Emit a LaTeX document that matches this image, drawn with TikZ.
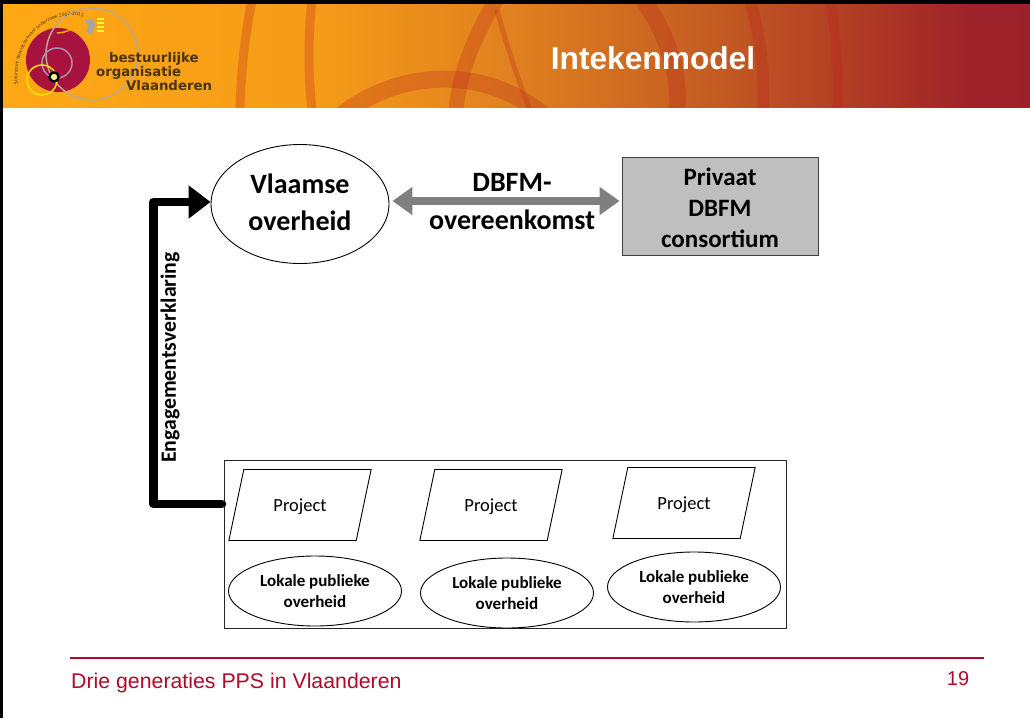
\documentclass[tikz,border=0pt]{standalone}
\usepackage{fontspec}
\setmainfont{Carlito}
\newfontfamily\arialfont{Liberation Sans}
\newfontfamily\logofont{DejaVu Sans}
\usetikzlibrary{arrows.meta,shapes.geometric,decorations.text}

\definecolor{slidered}{HTML}{B00A2A}
\definecolor{boxgrey}{HTML}{BFBFBF}
\definecolor{arrowgrey}{HTML}{7F7F7F}
\definecolor{logored}{HTML}{A8123F}
\definecolor{arcred}{HTML}{B8201C}
\definecolor{logotext}{HTML}{4A3410}
\definecolor{barA}{HTML}{FFA815}
\definecolor{barB}{HTML}{F59C18}
\definecolor{barC}{HTML}{E0801F}
\definecolor{barD}{HTML}{C25A22}
\definecolor{barE}{HTML}{B33E24}
\definecolor{barF}{HTML}{9E2329}
\definecolor{barG}{HTML}{9B2029}

\pgfdeclarehorizontalshading{headerbar}{100bp}{
    color(0bp)=(barA);
    color(25bp)=(barA);
    color(40bp)=(barB);
    color(50bp)=(barC);
    color(60bp)=(barD);
    color(66bp)=(barE);
    color(72bp)=(barF);
    color(75bp)=(barG);
    color(100bp)=(barG)}

\tikzset{
    headerarc/.style={line width=#1, draw=arcred, draw opacity=0.27},
    logoring/.style={line width=#1},
}

\begin{document}
\begin{tikzpicture}[x=1pt,y=-1pt]
    \useasboundingbox (0,0) rectangle (1030,718);
    \fill[white] (0,0) rectangle (1030,718);

    % header
    \shade[shading=headerbar] (0,0) rectangle (1030,107);
    \begin{scope}
        \clip (0,4) rectangle (1030,107);
        \draw[headerarc=9pt] (252,0) .. controls (245,35) and (241,70) .. (240,110);
        \draw[headerarc=9pt] (312,0) .. controls (308,35) and (308,75) .. (312,110);
        \draw[headerarc=17pt] (340,116) .. controls (395,72) and (480,62) .. (545,116);
        \draw[headerarc=15pt] (496,0) .. controls (475,35) and (460,70) .. (456,110);
        \draw[headerarc=5pt] (497,10) .. controls (508,50) and (520,85) .. (530,110);
        \draw[headerarc=17pt] (643,0) .. controls (665,30) and (680,70) .. (677,110);
        \draw[headerarc=12pt] (750,0) .. controls (760,35) and (765,75) .. (763,110);
        \draw[headerarc=10pt] (830,0) .. controls (836,35) and (839,75) .. (837,110);
    \end{scope}

    % logo
    \fill[logored] (58,60) circle (32);
    \draw[logoring=1.5pt, color=brown!40!lightgray] (92,54) circle (46);
    \draw[logoring=1.5pt, color=orange!70!yellow] (57,33) arc (90:-30:27);
    \draw[logoring=1.5pt, color=violet!25!lightgray] (57,63) circle (15);
    \draw[logoring=1.5pt, color=yellow!85!orange] (42,80) circle (15);
    \draw[logoring=2.5pt, color=black] (54,77) circle (4.5);
    \fill[yellow!40!white] (54,77) circle (3);
    \fill[gray!70!white] (84,20) -- (92,19) -- (95,25) -- (92,34) -- (86,32) -- (89,26) -- cycle;
    \foreach \y in {19,23,27,31}
        \draw[yellow!80!white, line width=2pt] (97,\y) -- (104,\y);
    \path[postaction={decorate, decoration={text along path, text align=center,
        text={|\logofont\fontsize{4.5}{5}\selectfont\color{logotext}|Steunpunt beleidsrelevant onderzoek 2007-2011}}}]
        (18,85) .. controls (12,45) and (45,8) .. (84,17);

    \begin{scope}[every node/.style={font=\logofont\bfseries\fontsize{13.3}{14}\selectfont, text=logotext, inner sep=0pt, anchor=base west}]
        \node (bestuurlijke) at (109,62) {bestuurlijke};
        \node (organisatie) at (96,76) {organisatie};
        \node (vlaanderenlogo) at (126,90) {Vlaanderen};
    \end{scope}

    \node[font=\arialfont\bfseries\fontsize{31.7}{32}\selectfont, text=white] (title) at (653,58) {Intekenmodel};

    % border
    \fill[black] (0,0) rectangle (1030,4);
    \fill[black] (0,0) rectangle (3,718);

    % top row
    \node[ellipse, draw, line width=0.9pt, minimum width=178pt, minimum height=119pt, inner sep=0pt] (vlaamse) at (300,204) {};
    \node[rectangle, draw=black!75, line width=0.9pt, fill=boxgrey, minimum width=196pt, minimum height=98pt, inner sep=0pt] (privaat) at (720,206) {};

    \begin{scope}[every node/.style={font=\bfseries\fontsize{28}{28}\selectfont, inner sep=0pt}]
        \node (vlaamsetxt) at (300,184) {Vlaamse};
        \node (overheidtxt) at (300,221) {overheid};
        \node (dbfmtxt) at (512,182) {DBFM-};
        \node (overeentxt) at (512,220) {overeenkomst};
    \end{scope}
    \begin{scope}[every node/.style={font=\bfseries\fontsize{25}{25}\selectfont, inner sep=0pt}]
        \node (privaattxt) at (720,177) {Privaat};
        \node (dbfm) at (720,208) {DBFM};
        \node (consortium) at (720,239) {consortium};
    \end{scope}

    % bottom box
    \node[rectangle, draw=black!85, line width=0.9pt, minimum width=562pt, minimum height=168pt, inner sep=0pt] (lokaal) at (505,544) {};

    \begin{scope}[every node/.style={trapezium, trapezium stretches=true, draw, line width=0.9pt, trapezium left angle=61, trapezium right angle=119,
            minimum width=143pt, minimum height=71pt, inner sep=0pt, text depth=0pt, font=\fontsize{18.5}{18}\selectfont}]
        \node (project1) at (300,505) {Project};
        \node (project2) at (491,505) {Project};
        \node (project3) at (684,503) {Project};
    \end{scope}

    \begin{scope}[every node/.style={ellipse, draw, line width=0.9pt, minimum width=173pt, minimum height=70pt, inner sep=0pt, align=center,
            font=\bfseries\fontsize{17}{21.5}\selectfont}]
        \node (lokale1) at (315,591) {Lokale publieke\\overheid};
        \node (lokale2) at (507,593) {Lokale publieke\\overheid};
        \node (lokale3) at (694,587) {Lokale publieke\\overheid};
    \end{scope}

    % connectors
    \coordinate (engstart) at (222,504);
    \coordinate (engcorner) at (153.5,504);
    \coordinate (engtip) at ([yshift=2pt]vlaamse.west);
    \draw[line width=8.5pt, line join=round, line cap=round, -{Triangle[length=22pt,width=32pt]}]
        (engstart) -- (engcorner) -- (engcorner |- engtip) -- (engtip);
    \coordinate (dbfmleft) at ([yshift=3pt]vlaamse.east);
    \draw[line width=7.5pt, draw=arrowgrey, {Triangle[length=20pt,width=27pt]}-{Triangle[length=20pt,width=27pt]}, shorten <=3pt, shorten >=2pt]
        (dbfmleft) -- (dbfmleft -| privaat.west);
    \node[rotate=90, font=\bfseries\fontsize{21.8}{22}\selectfont, inner sep=0pt] (engagement) at (170,357.5) {Engagementsverklaring};

    % footer
    \coordinate (footl) at (70,658);
    \coordinate (footr) at (984,658);
    \draw[slidered, line width=1.5pt] (footl) -- (footr);
    \node[font=\arialfont\fontsize{21.3}{21}\selectfont, text=slidered, inner sep=0pt, anchor=base west] (footer) at (71,688) {Drie generaties PPS in Vlaanderen};
    \node[font=\arialfont\fontsize{20}{20}\selectfont, text=slidered, inner sep=0pt] (pagenr) at (958,679) {19};
\end{tikzpicture}
\end{document}
